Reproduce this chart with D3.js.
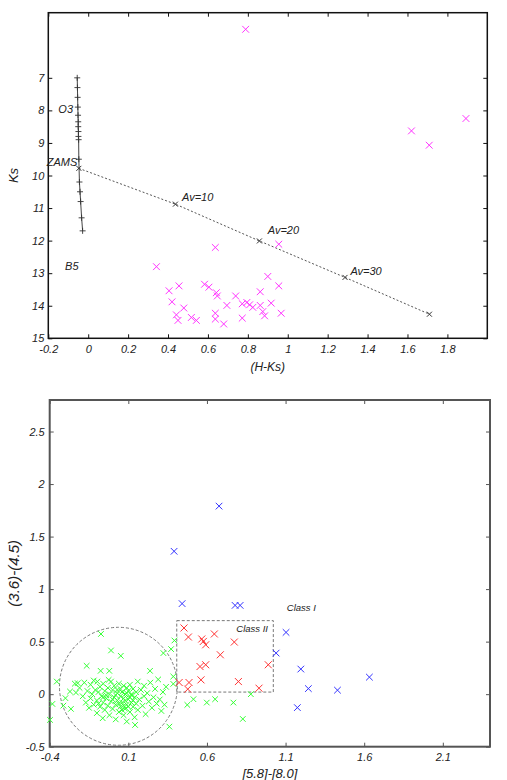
<!DOCTYPE html>
<html>
<head>
<meta charset="utf-8">
<script src="https://cdn.jsdelivr.net/npm/d3@7"></script>
<style>
  body { margin: 0; background: #fff; }
  text { font-family: "Liberation Sans", Arial, sans-serif; font-style: italic; fill: #222; }
</style>
</head>
<body>
<svg id="chart" width="507" height="780"></svg>
<script>
// ---- top panel: Ks vs (H-Ks) ----
const zamsHK = [-0.055, -0.054, -0.053, -0.052, -0.051, -0.050, -0.050, -0.049, -0.049, -0.048, -0.047, -0.044, -0.041, -0.038, -0.033, -0.028];
const zamsKs = [7.0, 7.3, 7.6, 7.9, 8.15, 8.35, 8.5, 8.65, 8.8, 8.9, 9.5, 10.2, 10.5, 10.8, 11.3, 11.7];
const reddenHK = [-0.047, 0.437, 0.858, 1.287, 1.71];
const reddenKs = [9.78, 10.88, 12.01, 13.13, 14.26];
const cmdNotes = [
  { text: "O3", hk: -0.076, ks: 8.08, anchor: "end" },
  { text: "ZAMS", hk: -0.055, ks: 9.72, anchor: "end" },
  { text: "B5", hk: -0.116, ks: 12.9, anchor: "start" },
  { text: "Av=10", hk: 0.47, ks: 10.78, anchor: "start" },
  { text: "Av=20", hk: 0.9, ks: 11.8, anchor: "start" },
  { text: "Av=30", hk: 1.314, ks: 13.07, anchor: "start" }
];
const cmdStars = [
  [0.789, 5.51], [1.62, 8.63], [1.709, 9.07], [1.893, 8.25],
  [0.637, 12.21], [0.955, 12.11], [0.342, 12.8], [0.9, 13.1], [0.955, 13.39],
  [0.455, 13.39], [0.405, 13.54], [0.583, 13.34], [0.605, 13.43], [0.642, 13.6],
  [0.647, 13.7], [0.862, 13.57], [0.739, 13.7], [0.42, 13.88], [0.479, 14.07],
  [0.695, 13.99], [0.772, 13.94], [0.795, 13.9], [0.809, 13.97], [0.825, 14.05],
  [0.862, 13.99], [0.917, 13.92], [0.875, 14.18], [0.967, 14.23], [0.442, 14.28],
  [0.45, 14.45], [0.517, 14.36], [0.542, 14.45], [0.637, 14.23], [0.637, 14.41],
  [0.679, 14.56], [0.772, 14.38], [0.884, 14.31]
];
const cmdTicksX = [-0.2, 0, 0.2, 0.4, 0.6, 0.8, 1, 1.2, 1.4, 1.6, 1.8];
const cmdTicksY = [7, 8, 9, 10, 11, 12, 13, 14, 15];

// ---- bottom panel: [3.6]-[4.5] vs [5.8]-[8.0] ----
const class1 = [
  [0.391, 1.36], [0.677, 1.79], [0.442, 0.862], [0.779, 0.845], [0.811, 0.845],
  [1.103, 0.588], [1.04, 0.391], [1.197, 0.239], [1.245, 0.053], [1.175, -0.128],
  [1.43, 0.038], [1.633, 0.162]
];
const class2 = [
  [0.454, 0.63], [0.482, 0.544], [0.567, 0.525], [0.577, 0.502], [0.592, 0.47],
  [0.647, 0.573], [0.774, 0.496], [0.685, 0.375], [0.556, 0.263], [0.592, 0.28],
  [0.99, 0.28], [0.562, 0.136], [0.423, 0.111], [0.486, 0.111], [0.478, 0.048],
  [0.8, 0.12], [0.931, 0.057]
];
const class3 = [
  [-0.398, -0.245], [-0.383, -0.093], [-0.355, 0.12], [-0.313, -0.109], [-0.265, -0.14],
  [-0.271, 0.025], [-0.233, 0.015], [-0.222, 0.105], [-0.24, 0.1], [-0.165, 0.27],
  [-0.074, 0.573], [-0.076, 0.222], [-0.063, -0.229], [-0.01, 0.416], [-0.021, 0.222],
  [0.052, 0.365], [0.143, -0.293], [0.238, 0.222], [0.372, 0.429], [0.393, 0.511],
  [0.361, -0.309], [0.386, 0.168], [0.386, 0.098], [0.323, 0.391], [0.514, -0.048],
  [0.475, -0.102], [0.599, -0.08], [0.652, -0.048], [0.768, -0.08], [0.828, -0.236],
  [0.879, 0.0], [-0.3, -0.038], [-0.097, 0.12], [-0.025, 0.136],
  [-0.21, 0.06], [-0.19, -0.02], [-0.18, 0.11], [-0.17, -0.08], [-0.16, 0.03],
  [-0.15, -0.13], [-0.14, 0.09], [-0.14, -0.04], [-0.13, 0.0], [-0.12, -0.1],
  [-0.12, 0.13], [-0.11, 0.04], [-0.1, -0.06], [-0.1, -0.18], [-0.09, 0.02],
  [-0.08, -0.12], [-0.08, 0.07], [-0.07, -0.02], [-0.06, 0.1], [-0.06, -0.08],
  [-0.05, -0.15], [-0.05, 0.03], [-0.04, -0.04], [-0.03, 0.06], [-0.03, -0.11],
  [-0.02, -0.2], [-0.02, 0.0], [-0.01, 0.12], [-0.01, -0.07], [0.0, 0.04],
  [0.0, -0.14], [0.01, -0.03], [0.01, 0.08], [0.02, -0.1], [0.02, -0.24],
  [0.03, 0.01], [0.03, -0.06], [0.04, 0.1], [0.04, -0.17], [0.05, -0.02],
  [0.05, 0.05], [0.05, -0.12], [0.06, -0.08], [0.06, 0.02], [0.07, -0.2],
  [0.07, 0.08], [0.07, -0.04], [0.08, -0.14], [0.08, 0.0], [0.09, 0.06],
  [0.09, -0.1], [0.09, -0.26], [0.1, -0.05], [0.1, 0.03], [0.11, -0.17],
  [0.11, 0.09], [0.12, -0.08], [0.12, -0.01], [0.13, 0.05], [0.13, -0.12],
  [0.14, -0.03], [0.14, -0.22], [0.15, 0.02], [0.15, -0.09], [0.16, 0.12],
  [0.16, -0.15], [0.17, -0.05], [0.18, 0.04], [0.19, -0.11], [0.2, -0.02],
  [0.2, 0.08], [0.21, -0.19], [0.22, 0.01], [0.23, -0.07], [0.24, 0.11],
  [0.25, -0.13], [0.26, -0.03], [0.27, 0.05], [0.28, -0.09], [0.29, 0.14],
  [0.3, -0.05], [0.31, -0.16], [0.32, 0.02], [0.33, -0.1], [0.34, 0.07],
  [0.02, -0.01], [0.04, -0.09], [0.06, -0.15], [0.08, -0.06], [0.1, -0.12],
  [0.12, 0.0], [-0.04, -0.01], [-0.09, -0.09], [0.03, 0.04], [0.11, -0.03],
  [0.0, -0.05], [0.07, -0.11], [0.13, -0.06], [-0.06, -0.03], [0.09, 0.01]
];
const diskCenter = [0.037, 0.075];
const diskRadius = 0.375;            // in x-axis units
const classIIBox = [0.408, 0.02, 1.022, 0.70];
const ccNotes = [
  { text: "Class II", x: 0.787, y: 0.588 },
  { text: "Class I", x: 1.108, y: 0.788 }
];
const ccTicksX = [-0.4, 0.1, 0.6, 1.1, 1.6, 2.1];
const ccTicksY = [-0.5, 0, 0.5, 1, 1.5, 2, 2.5];

const svg = d3.select("#chart");

const cross = (s) => `M${-s},${-s}L${s},${s}M${-s},${s}L${s},${-s}`;
const plus = (s) => `M${-s},0L${s},0M0,${-s}L0,${s}`;

// frame with inward ticks on all four sides
function drawFrame(g, x, y, tx, ty, w, h, color, lw, padX, padY) {
  const fmt = (d) => String(d);
  g.append("g").attr("transform", `translate(0,${h})`)
    .call(d3.axisBottom(x).tickValues(tx).tickSize(-4).tickPadding(padX).tickFormat(fmt));
  g.append("g")
    .call(d3.axisTop(x).tickValues(tx).tickSize(-4).tickFormat(""));
  g.append("g")
    .call(d3.axisLeft(y).tickValues(ty).tickSize(-4).tickPadding(padY).tickFormat(fmt));
  g.append("g").attr("transform", `translate(${w},0)`)
    .call(d3.axisRight(y).tickValues(ty).tickSize(-4).tickFormat(""));
  g.selectAll(".domain").remove();
  g.selectAll(".tick line").attr("stroke", color).attr("stroke-width", 1);
  g.selectAll(".tick text").style("font-size", "11px").style("font-family", null);
  g.append("rect").attr("width", w).attr("height", h)
    .attr("fill", "none").attr("stroke", color).attr("stroke-width", lw);
}

// ================= top panel =================
const m1 = { left: 48.3, top: 12.7 };
const w1 = 439, h1 = 325.6;
const g1 = svg.append("g").attr("transform", `translate(${m1.left},${m1.top})`);
const x1 = d3.scaleLinear().domain([-0.2, 2.0]).range([0, w1]);
const y1 = d3.scaleLinear().domain([5, 15]).range([0, h1]);

drawFrame(g1, x1, y1, cmdTicksX, cmdTicksY, w1, h1, "#111", 1.5, 7, 4);

// ZAMS track
const zams = zamsHK.map((d, i) => [d, zamsKs[i]]);
g1.append("path").datum(zams)
  .attr("d", d3.line().x((d) => x1(d[0])).y((d) => y1(d[1])))
  .attr("fill", "none").attr("stroke", "#444").attr("stroke-width", 1);
g1.selectAll(".zams").data(zams).enter().append("path")
  .attr("transform", (d) => `translate(${x1(d[0])},${y1(d[1])})`)
  .attr("d", plus(3)).attr("stroke", "#333").attr("stroke-width", 0.9);

// reddening vector
const redden = reddenHK.map((d, i) => [d, reddenKs[i]]);
g1.append("path").datum(redden)
  .attr("d", d3.line().x((d) => x1(d[0])).y((d) => y1(d[1])))
  .attr("fill", "none").attr("stroke", "#555").attr("stroke-width", 1)
  .attr("stroke-dasharray", "2,2");
g1.selectAll(".av").data(redden).enter().append("path")
  .attr("transform", (d) => `translate(${x1(d[0])},${y1(d[1])})`)
  .attr("d", cross(2.5)).attr("stroke", "#333").attr("stroke-width", 1);

// stars
g1.selectAll(".star").data(cmdStars).enter().append("path")
  .attr("transform", (d) => `translate(${x1(d[0])},${y1(d[1])})`)
  .attr("d", cross(3.4)).attr("stroke", "#ff33ff").attr("stroke-width", 1);

g1.selectAll(".note").data(cmdNotes).enter().append("text")
  .attr("x", (d) => x1(d.hk)).attr("y", (d) => y1(d.ks))
  .attr("text-anchor", (d) => d.anchor)
  .style("font-size", "11px")
  .text((d) => d.text);

g1.append("text").attr("x", w1 / 2).attr("y", h1 + 33)
  .attr("text-anchor", "middle").style("font-size", "12px").text("(H-Ks)");
g1.append("text")
  .attr("transform", `translate(${-35},${h1 / 2}) rotate(-90)`)
  .attr("text-anchor", "middle").attr("dy", "0.35em")
  .style("font-size", "13px").text("Ks");

// ================= bottom panel =================
const m2 = { left: 49.7, top: 400 };
const w2 = 440.3, h2 = 346.7;
const g2 = svg.append("g").attr("transform", `translate(${m2.left},${m2.top})`);
const x2 = d3.scaleLinear().domain([-0.4, 2.4]).range([0, w2]);
const y2 = d3.scaleLinear().domain([-0.5, 2.8]).range([h2, 0]);

drawFrame(g2, x2, y2, ccTicksX, ccTicksY, w2, h2, "#555", 2, 7, 5);

// Class III disk region
g2.append("circle")
  .attr("cx", x2(diskCenter[0])).attr("cy", y2(diskCenter[1]))
  .attr("r", x2(diskCenter[0] + diskRadius) - x2(diskCenter[0]))
  .attr("fill", "none").attr("stroke", "#777").attr("stroke-width", 1)
  .attr("stroke-dasharray", "3,2");

// Class II box
g2.append("rect")
  .attr("x", x2(classIIBox[0])).attr("y", y2(classIIBox[3]))
  .attr("width", x2(classIIBox[2]) - x2(classIIBox[0]))
  .attr("height", y2(classIIBox[1]) - y2(classIIBox[3]))
  .attr("fill", "none").attr("stroke", "#777").attr("stroke-width", 1)
  .attr("stroke-dasharray", "3,2");

const series = [
  { data: class3, color: "#33ff33", size: 2.8 },
  { data: class2, color: "#ff3333", size: 3.5 },
  { data: class1, color: "#3333ff", size: 3.3 }
];
series.forEach((s) => {
  g2.append("g").selectAll("path").data(s.data).enter().append("path")
    .attr("transform", (d) => `translate(${x2(d[0])},${y2(d[1])})`)
    .attr("d", cross(s.size)).attr("stroke", s.color).attr("stroke-width", 1);
});

g2.selectAll(".cnote").data(ccNotes).enter().append("text")
  .attr("x", (d) => x2(d.x)).attr("y", (d) => y2(d.y))
  .style("font-size", "9.5px").text((d) => d.text);

g2.append("text").attr("x", w2 / 2).attr("y", h2 + 31)
  .attr("text-anchor", "middle").style("font-size", "13px").text("[5.8]-[8.0]");
g2.append("text")
  .attr("transform", `translate(${-36},${h2 / 2}) rotate(-90)`)
  .attr("text-anchor", "middle").attr("dy", "0.35em")
  .style("font-size", "15px").text("(3.6)-(4.5)");
</script>
</body>
</html>
